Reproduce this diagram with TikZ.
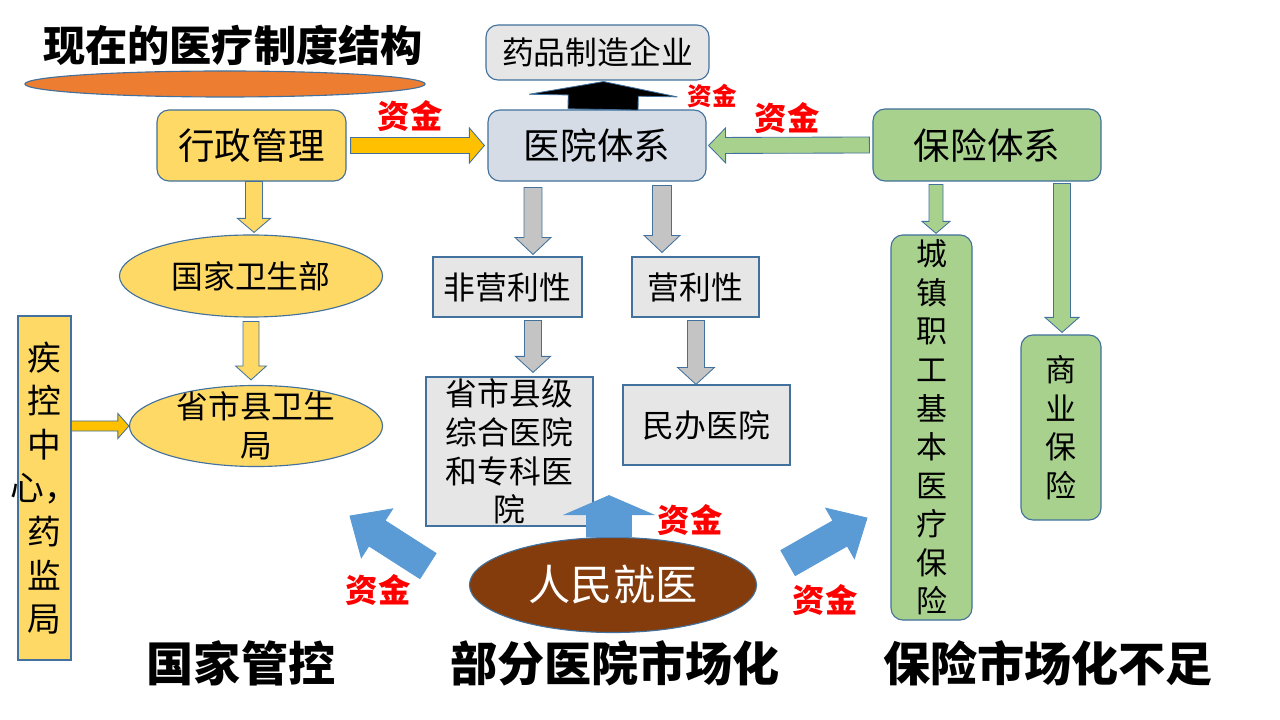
\documentclass[tikz,border=0pt]{standalone}
\usepackage{fontspec}
\setmainfont{Noto Sans CJK SC}
\usepackage{tikz}
\usetikzlibrary{calc,shapes.geometric}

\definecolor{boxyellow}{HTML}{FFD966}
\definecolor{arrowyellow}{HTML}{FFC000}
\definecolor{borderblue}{HTML}{41719C}
\definecolor{hospblue}{HTML}{D6DCE5}
\definecolor{lightgray}{HTML}{E7E6E6}
\definecolor{arrowgray}{HTML}{C4C4C4}
\definecolor{insgreen}{HTML}{A9D18E}
\definecolor{arrowblue}{HTML}{5B9BD5}
\definecolor{brownfill}{HTML}{843C0C}
\definecolor{bandorange}{HTML}{ED7D31}

% block arrow: style, from, to, shaft half width, head half width, head length (px)
\newcommand\blockarrow[6]{%
  \path[#1] let \p1=(#2), \p2=(#3),
    \n1={veclen(\x2-\x1,\y2-\y1)}, \n2={(\x2-\x1)/(\n1)}, \n3={(\y2-\y1)/(\n1)},
    \n4={#4*0.7113}, \n5={#5*0.7113}, \n6={#6*0.7113} in
    ({\x1-(\n3)*(\n4)}, {\y1+(\n2)*(\n4)})
    -- ({\x2-(\n2)*(\n6)-(\n3)*(\n4)}, {\y2-(\n3)*(\n6)+(\n2)*(\n4)})
    -- ({\x2-(\n2)*(\n6)-(\n3)*(\n5)}, {\y2-(\n3)*(\n6)+(\n2)*(\n5)})
    -- (\x2,\y2)
    -- ({\x2-(\n2)*(\n6)+(\n3)*(\n5)}, {\y2-(\n3)*(\n6)-(\n2)*(\n5)})
    -- ({\x2-(\n2)*(\n6)+(\n3)*(\n4)}, {\y2-(\n3)*(\n6)-(\n2)*(\n4)})
    -- ({\x1+(\n3)*(\n4)}, {\y1-(\n2)*(\n4)}) -- cycle;}

\tikzset{
  txt/.style={inner sep=0pt, align=center, font=\fontsize{22.6}{27.5}\selectfont},
  box/.style={txt, draw=borderblue, line width=0.8pt},
  rbox/.style={box, rounded corners=0.3cm},
  oval/.style={box, ellipse},
  head/.style={font=\fontsize{26}{30}\selectfont},
  fund/.style={text=red, inner sep=0pt, font=\fontsize{23}{26}\selectfont\bfseries},
  bigtxt/.style={inner sep=0pt, font=\fontsize{33.5}{38}\selectfont\bfseries},
  yarrow/.style={fill=arrowyellow, draw=borderblue, line width=0.6pt},
  lyarrow/.style={fill=boxyellow, draw=borderblue, line width=0.6pt},
  karrow/.style={fill=black, draw=borderblue, line width=0.6pt},
  grarrow/.style={fill=arrowgray, draw=borderblue, line width=0.6pt},
  garrow/.style={fill=insgreen, draw=borderblue, line width=0.6pt},
  barrow/.style={fill=arrowblue, draw=arrowblue, line width=0.6pt}
}

\begin{document}
\begin{tikzpicture}[x=0.025cm, y=-0.025cm]
\useasboundingbox (0,0) rectangle (1280,720);

% title
\node[bigtxt, font=\fontsize{30}{34}\selectfont\bfseries] (title) at (233,45) {现在的医疗制度结构};
\node[oval, fill=bandorange, minimum width=10cm, minimum height=0.65cm] (band) at (225,84) {};

% state side
\node[rbox, head, fill=boxyellow, minimum width=4.725cm, minimum height=1.775cm] (xz) at (251.5,145.5) {行政管理};
\node[oval, fill=boxyellow, minimum width=6.575cm, minimum height=2.05cm] (wsb) at (251,276) {国家卫生部};
\node[oval, fill=boxyellow, minimum width=6.325cm, minimum height=2.025cm,
  label={[txt]center:省市县卫生\\局}] (ws) at (256,426) {};
\node[box, fill=boxyellow, minimum width=1.325cm, minimum height=8.6cm,
  label={[txt, font=\fontsize{24}{31}\selectfont]center:疾\\控\\中\\心，\\药\\监\\局}] (jk) at (44.5,488) {};

% hospitals
\node[rbox, head, fill=hospblue, minimum width=5.45cm, minimum height=1.775cm] (yy) at (597,145.5) {医院体系};
\node[rbox, fill=lightgray, minimum width=5.575cm, minimum height=1.375cm] (yp) at (597.5,52.5) {药品制造企业};
\node[box, fill=lightgray, minimum width=3.725cm, minimum height=1.5cm] (fyl) at (507.5,287) {非营利性};
\node[box, fill=lightgray, minimum width=3.175cm, minimum height=1.5cm] (yl) at (695.5,287) {营利性};
\node[box, fill=lightgray, minimum width=4.175cm, minimum height=3.725cm,
  label={[txt]center:省市县级\\综合医院\\和专科医\\院}] (gl) at (509.5,451.5) {};
\node[box, fill=lightgray, minimum width=4.175cm, minimum height=2cm] (mb) at (706.5,425) {民办医院};
\node[oval, fill=brownfill, text=white, font=\fontsize{30}{34}\selectfont,
  minimum width=7.175cm, minimum height=2.375cm] (rm) at (613,585) {人民就医};

% insurance
\node[rbox, head, fill=insgreen, minimum width=5.7cm, minimum height=1.8cm] (bx) at (987,145) {保险体系};
\node[rbox, fill=insgreen, minimum width=2.025cm, minimum height=9.625cm,
  label={[txt, font=\fontsize{22}{27.4}\selectfont]center:城\\镇\\职\\工\\基\\本\\医\\疗\\保\\险}] (cz) at (931.5,427.5) {};
\node[rbox, fill=insgreen, minimum width=2cm, minimum height=4.625cm,
  label={[txt, font=\fontsize{22}{27.4}\selectfont]center:商\\业\\保\\险}] (sy) at (1061,427.5) {};

% money labels
\node[fund] (f1) at (410,116) {资金};
\node[fund, font=\fontsize{17.5}{20}\selectfont\bfseries] (f2) at (712,96) {资金};
\node[fund] (f3) at (787,118) {资金};
\node[fund] (f4) at (690,520) {资金};
\node[fund] (f5) at (378,590) {资金};
\node[fund] (f6) at (825,600) {资金};

% bottom captions
\node[bigtxt] (gk) at (241,663) {国家管控};
\node[bigtxt] (bf) at (615,663) {部分医院市场化};
\node[bigtxt] (bs) at (1048,663) {保险市场化不足};

\coordinate (l1) at (428,566);
\coordinate (l2) at (350,516);
\coordinate (r1) at (788,563);
\coordinate (r2) at (867,518);

% arrows
\blockarrow{yarrow}{$(xz.east)+(4,0)$}{$(yy.west)+(-3,0)$}{8}{17.5}{15}
\blockarrow{karrow}{$(yy.north)+(6,0)$}{$(yp.south)+(6,1)$}{35}{74}{14}
\blockarrow{garrow}{$(bx.west)+(-3,0)$}{$(yy.east)+(2,0)$}{8}{17.5}{17}
\blockarrow{lyarrow}{$(xz.south)+(2.5,0)$}{$(wsb.north)+(3,-2)$}{8.5}{16.5}{14}
\blockarrow{lyarrow}{$(wsb.south)+(0,4)$}{$(ws.north)+(-5,-5)$}{8}{15.5}{14}
\blockarrow{yarrow}{jk.east |- ws.west}{ws.west}{5}{12.5}{11}
\blockarrow{grarrow}{$(yy.south)+(-64,6)$}{$(fyl.north)+(25.5,-2)$}{9}{18}{17}
\blockarrow{grarrow}{$(yy.south)+(65,4)$}{$(yl.north)+(-33.5,-4)$}{9.5}{18}{17}
\blockarrow{grarrow}{$(fyl.south)+(25.5,3)$}{$(gl.north)+(23.5,-4)$}{8.5}{17.5}{16}
\blockarrow{grarrow}{$(yl.south)+(0.5,3)$}{$(mb.north)+(-10.5,0)$}{8.5}{18.5}{17}
\blockarrow{barrow}{$(rm.north)+(-4,0)$}{$(gl.south)+(99.5,-31)$}{22.5}{44}{19}
\blockarrow{barrow}{l1}{l2}{15}{29}{32}
\blockarrow{barrow}{r1}{r2}{14.5}{29}{31}
\blockarrow{garrow}{$(bx.south)+(-51,3)$}{$(cz.north)+(4.5,-1)$}{7}{14}{12}
\blockarrow{garrow}{$(bx.south)+(75,2)$}{$(sy.north)+(1,-2)$}{8.5}{17}{15}
\end{tikzpicture}
\end{document}
